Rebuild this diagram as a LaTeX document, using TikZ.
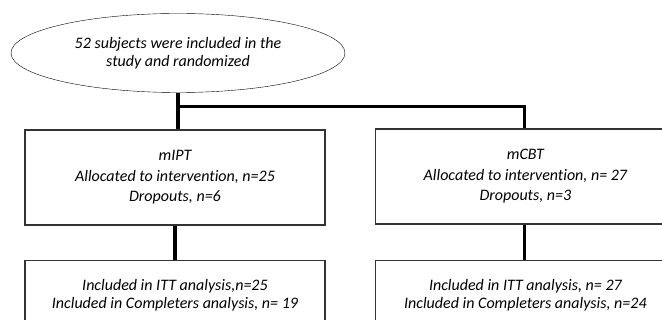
\documentclass[tikz,border=0pt]{standalone}
\usepackage{fontspec}
\setmainfont{Carlito}[Ligatures=NoCommon]
\usepackage{tikz}
\usetikzlibrary{positioning,shapes.geometric,calc}

\begin{document}
\begin{tikzpicture}[
    x=1pt, y=1pt,
    font=\itshape,
    oval/.style={ellipse, draw=black, thin, align=center, font=\fontsize{16}{18}\selectfont\itshape, minimum width=334pt, minimum height=79pt, inner sep=0pt},
    box/.style={draw=black!80, line width=1.4pt, align=center, font=\fontsize{16}{20.5}\selectfont\itshape, minimum width=300pt, minimum height=95pt, inner sep=0pt},
    lowbox/.style={draw=black!80, line width=1.4pt, align=center, font=\fontsize{16}{18}\selectfont\itshape, minimum width=300pt, minimum height=70pt, inner sep=0pt},
    link/.style={line width=3.5pt, draw=black}
  ]
    \clip (0,0) rectangle (662,-320);
    \useasboundingbox (0,0) rectangle (662,-320);

    \node[oval] (rand) at (178,-53) {52 subjects were included in the\\study and randomized};
    \node[box] (mipt) at (175,-177.5) {mIPT\\Allocated to intervention, n=25\\Dropouts, n=6};
    \node[box, right=49pt of mipt, yshift=1pt] (mcbt) {mCBT\\Allocated to intervention, n= 27\\Dropouts, n=3};
    \node[lowbox, below=34pt of mipt] (ittl) {Included in ITT analysis,n=25\\Included in Completers analysis, n= 19};
    \node[lowbox, below=35pt of mcbt] (ittr) {Included in ITT analysis, n= 27\\Included in Completers analysis, n=24};
    \coordinate (split) at ($(rand.south)+(0,-14)$);

    \draw[link] (rand.south) -- (rand.south |- mipt.north);
    \draw[link] (split) -| ([xshift=-1pt]mcbt.north);
    \draw[link] (mipt.south) -- (ittl.north);
    \draw[link] ([xshift=-1pt]mcbt.south) -- ([xshift=-1pt]ittr.north);
  \end{tikzpicture}
\end{document}
